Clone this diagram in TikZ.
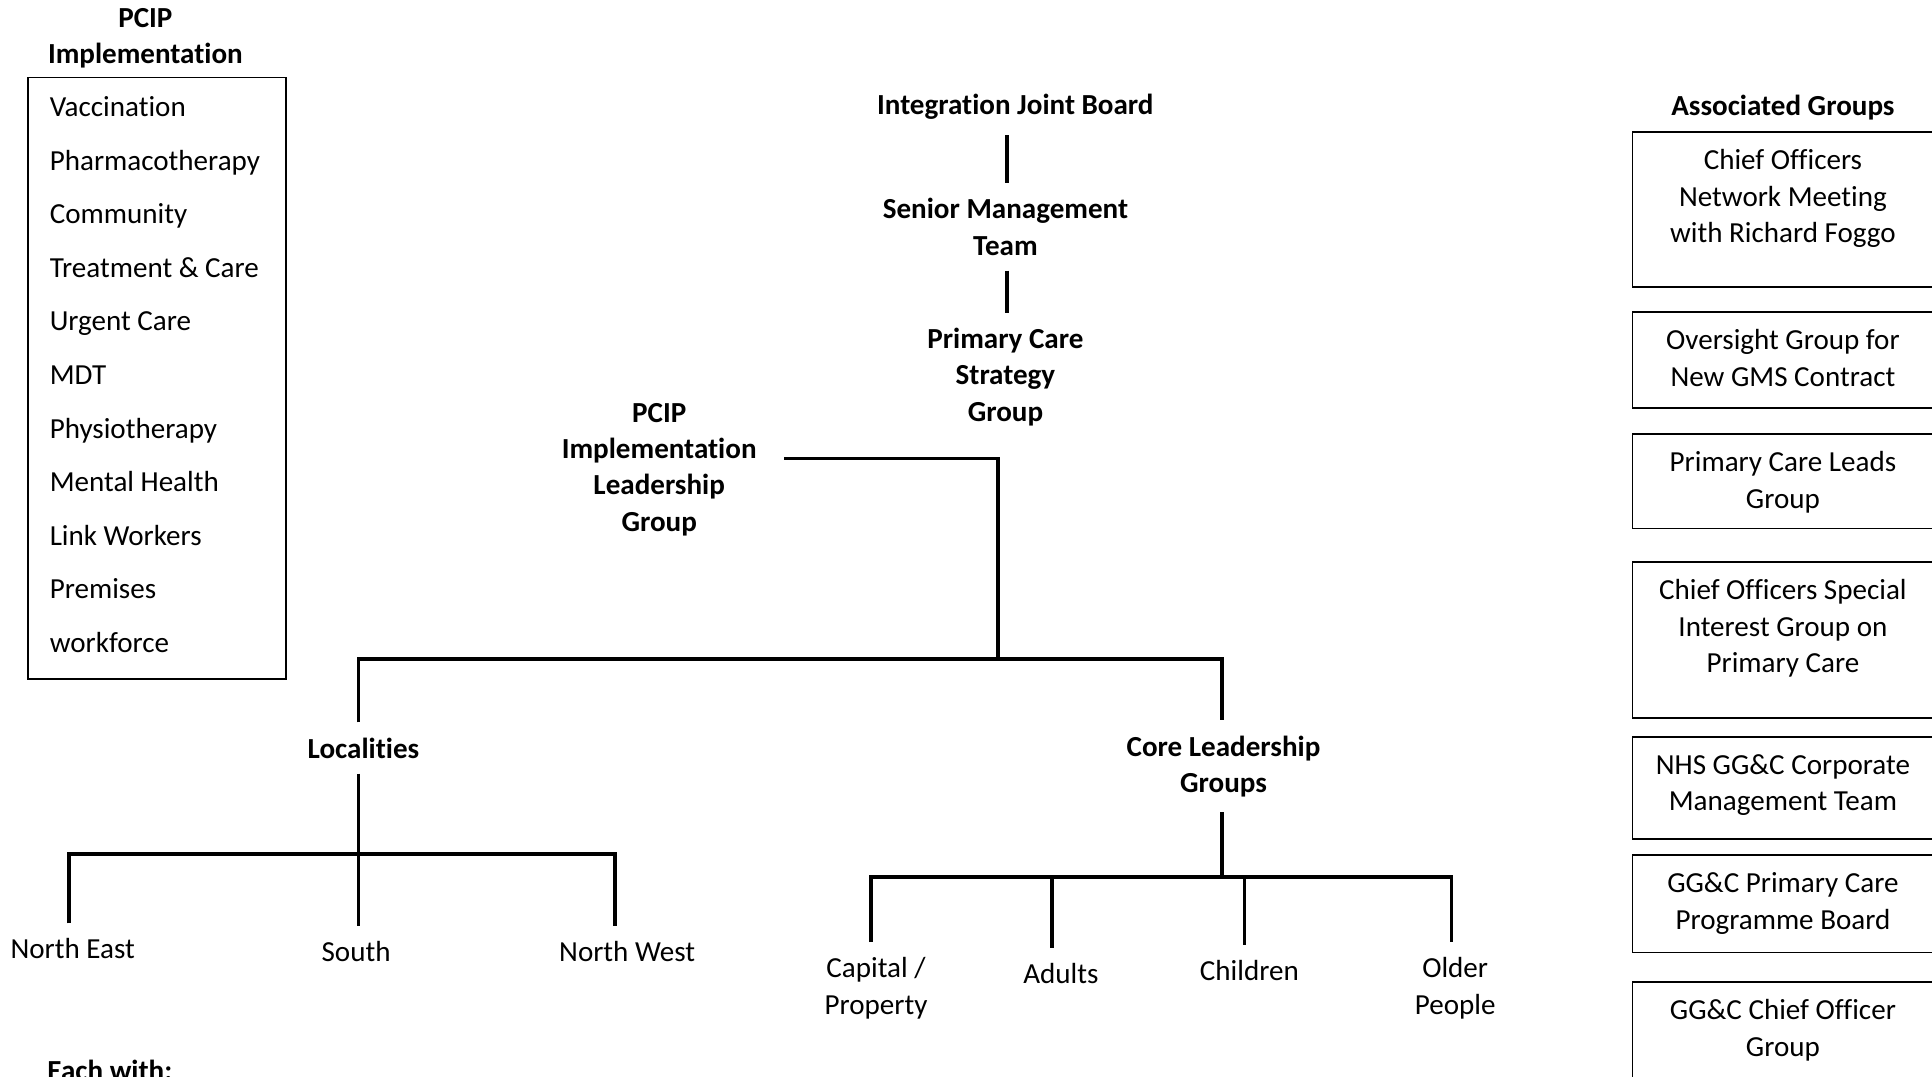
\documentclass[tikz,border=0pt]{standalone}
\usepackage{fontspec}
\setmainfont[Ligatures=NoCommon]{Carlito}

\begin{document}
\begin{tikzpicture}[x=0.5pt,y=-0.5pt]
\tikzstyle{head}=[font=\fontsize{11.8}{14.8}\selectfont\bfseries, align=center, inner sep=6pt]
\tikzstyle{leaf}=[font=\fontsize{11.8}{14.8}\selectfont, align=center, inner sep=6pt]
\tikzstyle{item}=[font=\fontsize{11.8}{14.8}\selectfont, anchor=west, inner sep=0pt, text height=1.5ex, text depth=.25ex]
\tikzstyle{assoc}=[font=\fontsize{11.8}{14.8}\selectfont, align=center, anchor=north, inner sep=6.5pt]
\tikzstyle{conn}=[line width=1.5pt]
\tikzstyle{frame}=[line width=0.7pt]

\useasboundingbox (0,0) rectangle (1568,874);

% PCIP list on the left
\node[head, inner sep=0pt] (pciptitle) at (118,31) {PCIP\\Implementation};
\draw[frame] (23,63) rectangle (232,551);
\foreach \name [count=\i from 0] in {Vaccination, Pharmacotherapy, Community,
  Treatment \& Care, Urgent Care, MDT, Physiotherapy, Mental Health,
  Link Workers, Premises, workforce}
  \node[item] (item\i) at (40,88.5+43.5*\i) {\name};

% main chain
\node[head] (ijb) at (824,87) {Integration Joint Board};
\node[head] (smt) at (816,184) {Senior Management\\Team};
\node[head] (pcsg) at (816,306) {Primary Care\\Strategy\\Group};
\node[head] (pcipl) at (535,381) {PCIP\\Implementation\\Leadership\\Group};
\node[head] (loc) at (295,607) {Localities};
\node[head] (core) at (993,622) {Core Leadership\\Groups};

\node[leaf] (ne) at (59,770) {North East};
\node[leaf] (south) at (289,772) {South};
\node[leaf] (nw) at (509,772) {North West};

\node[leaf] (capital) at (711,802) {Capital /\\Property};
\node[leaf] (adults) at (861,790) {Adults};
\node[leaf] (children) at (1014,788) {Children};
\node[leaf] (older) at (1181,802) {Older\\People};

\coordinate (spine) at (817,0);
\coordinate (elbow) at (810,372);
\coordinate (lbar) at (291,535);
\coordinate (rbar) at (992,535);
\coordinate (lmid) at (291,693);
\coordinate (lw) at (56,693);
\coordinate (le) at (499,693);
\coordinate (cmid) at (992,712);
\coordinate (cw) at (707,712);
\coordinate (ca) at (854,712);
\coordinate (cc) at (1010,712);
\coordinate (ce) at (1178,712);

\draw[conn] (ijb.south -| spine) -- (smt.north -| spine);
\draw[conn] (smt.south -| spine) -- (pcsg.north -| spine);
\draw[conn] ([xshift=5pt]pcipl.east |- elbow) -- (elbow) -- (elbow |- lbar);
\draw[conn] (loc.north -| lbar) -- (lbar) -- (rbar) -- (core.north -| rbar);

\draw[conn] (loc.south -| lmid) -- (south.north -| lmid);
\draw[conn] (ne.north -| lw) -- (lw) -- (le) -- (nw.north -| le);

\draw[conn] (core.south -| cmid) -- (cmid);
\draw[conn] (capital.north -| cw) -- (cw) -- (ce) -- (older.north -| ce);
\draw[conn] (ca) -- (adults.north -| ca);
\draw[conn] (cc) -- (children.north -| cc);

% associated groups on the right
\node[head, inner sep=0pt] (assoctitle) at (1447,87) {Associated Groups};
\foreach \top/\bot/\txt [count=\i] in {
  107/233/{Chief Officers\\Network Meeting\\with Richard Foggo},
  253/331/{Oversight Group for\\New GMS Contract},
  352/429/{Primary Care Leads\\Group},
  456/583/{Chief Officers Special\\Interest Group on\\Primary Care},
  598/681/{NHS GG\&C Corporate\\Management Team},
  694/773/{GG\&C Primary Care\\Programme Board},
  797/900/{GG\&C Chief Officer\\Group}} {
  \draw[frame] (1325,\top) rectangle (1572,\bot);
  \node[assoc] (ag\i) at (1447,\top+1) {\txt};
}

\node[head, anchor=west, inner sep=0pt] (each) at (38,869) {Each with:};

\end{tikzpicture}
\end{document}
